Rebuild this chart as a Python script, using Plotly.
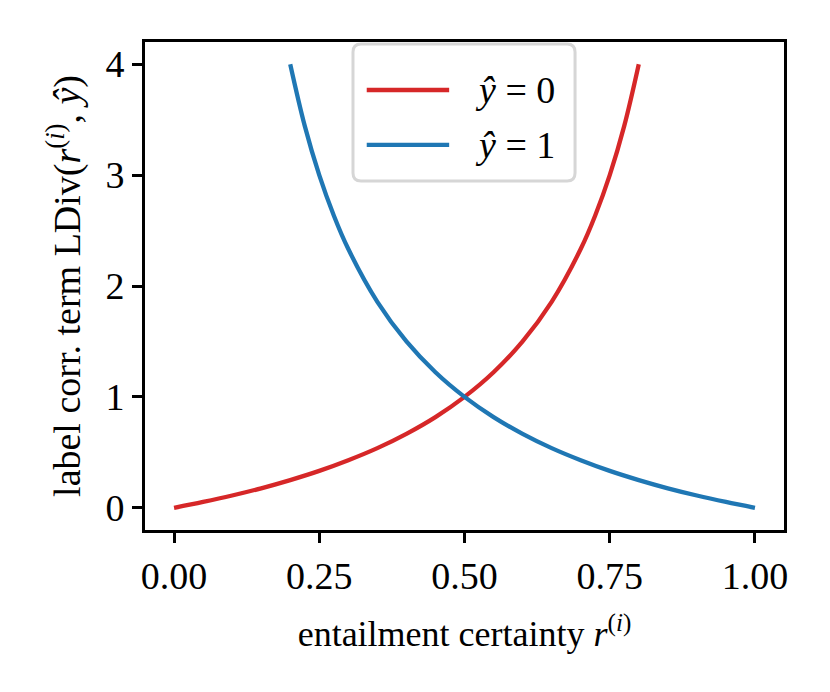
import plotly.graph_objects as go

#%% data
r_red = [0.0, 0.05, 0.1, 0.15, 0.2, 0.25, 0.3, 0.35, 0.4, 0.45, 0.5, 0.55, 0.6, 0.65, 0.7, 0.725, 0.75, 0.775, 0.8]
ldiv_red = [0.0, 0.053, 0.111, 0.176, 0.25, 0.333, 0.429, 0.538, 0.667, 0.818, 1.0, 1.222, 1.5, 1.857, 2.333, 2.636, 3.0, 3.444, 4.0]
r_blue = [0.2, 0.225, 0.25, 0.275, 0.3, 0.35, 0.4, 0.45, 0.5, 0.55, 0.6, 0.65, 0.7, 0.75, 0.8, 0.85, 0.9, 0.95, 1.0]
ldiv_blue = [4.0, 3.444, 3.0, 2.636, 2.333, 1.857, 1.5, 1.222, 1.0, 0.818, 0.667, 0.538, 0.429, 0.333, 0.25, 0.176, 0.111, 0.053, 0.0]
names = ['<i>ŷ</i> = 0', '<i>ŷ</i> = 1']
x_ticks = [0.0, 0.25, 0.5, 0.75, 1.0]
y_ticks = [0, 1, 2, 3, 4]

FONT = 'Liberation Serif, Times New Roman, serif'
RED = '#d62728'
BLUE = '#1f77b4'

fig = go.Figure()
fig.add_trace(go.Scatter(x=r_red, y=ldiv_red, mode='lines', name=names[0], showlegend=False,
                         line=dict(color=RED, width=4.3, shape='spline')))
fig.add_trace(go.Scatter(x=r_blue, y=ldiv_blue, mode='lines', name=names[1], showlegend=False,
                         line=dict(color=BLUE, width=4.3, shape='spline')))

# hand-made legend box (matplotlib style, rounded corners), paper coords
x0, x1, y0, y1 = 0.3255, 0.673, 0.715, 0.996
rx, ry = 0.0125, 0.0164
box = (f'M{x0+rx},{y0} L{x1-rx},{y0} Q{x1},{y0} {x1},{y0+ry} L{x1},{y1-ry} '
       f'Q{x1},{y1} {x1-rx},{y1} L{x0+rx},{y1} Q{x0},{y1} {x0},{y1-ry} '
       f'L{x0},{y0+ry} Q{x0},{y0} {x0+rx},{y0} Z')
fig.add_shape(type='path', path=box, xref='paper', yref='paper',
              line=dict(color='#d6d6d6', width=3), fillcolor='white', layer='above')
for yy, color, name in [(0.9016, RED, names[0]), (0.789, BLUE, names[1])]:
    fig.add_shape(type='line', xref='paper', yref='paper', x0=0.347, x1=0.476, y0=yy, y1=yy,
                  line=dict(color=color, width=4.3), layer='above')
    fig.add_annotation(x=0.513, y=yy, xref='paper', yref='paper', text=name,
                       showarrow=False, xanchor='left', yanchor='middle',
                       font=dict(size=38))

axis_style = dict(showline=True, linecolor='black', linewidth=3, mirror=True,
                  ticks='outside', ticklen=10, tickwidth=3, tickcolor='black',
                  showgrid=False, zeroline=False, tickfont=dict(size=38, color='black'))

fig.update_layout(
    width=830, height=692,
    margin=dict(l=137, r=54, t=34, b=170),
    paper_bgcolor='white', plot_bgcolor='white',
    font=dict(family=FONT, size=38, color='black'),
    xaxis=dict(range=[-0.05, 1.05], tickvals=x_ticks, tickformat='.2f',
               title=dict(text='entailment certainty <i>r</i><sup>(<i>i</i>)</sup>',
                          font=dict(size=36), standoff=26),
               **axis_style),
    yaxis=dict(range=[-0.2, 4.2], tickvals=y_ticks,
               title=dict(text='label corr. term LDiv(<i>r</i><sup>(<i>i</i>)</sup>, <i>ŷ</i>)',
                          font=dict(size=38), standoff=14),
               **axis_style),
)

fig.write_html('out.html')
